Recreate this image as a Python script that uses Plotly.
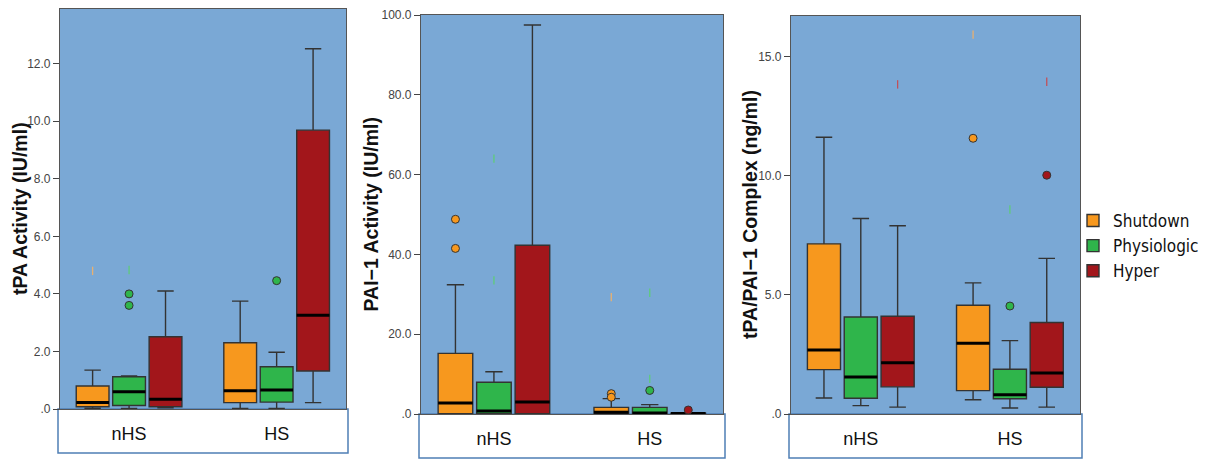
import plotly.graph_objects as go

groups = ["nHS", "HS"]
series = ["Shutdown", "Physiologic", "Hyper"]
colors = ["#F7981E", "#2FB54B", "#A2161B"]
mark_colors = ["#E8B070", "#5FCB7A", "#C0505A"]

# ---- Panel 1: tPA Activity (rows: series, cols: groups) ----
tpa_lower = [[0.02, 0.02], [0.02, 0.02], [0.04, 0.22]]
tpa_q1 = [[0.08, 0.22], [0.12, 0.24], [0.08, 1.32]]
tpa_median = [[0.23, 0.63], [0.60, 0.66], [0.34, 3.26]]
tpa_q3 = [[0.80, 2.30], [1.12, 1.47], [2.51, 9.69]]
tpa_upper = [[1.35, 3.75], [1.15, 1.97], [4.10, 12.52]]
tpa_outliers = [[[], []], [[4.0, 3.6], [4.46]], [[], []]]
tpa_marks = [[[4.8], []], [[4.83], []], [[], []]]

# ---- Panel 2: PAI-1 Activity ----
pai_lower = [[0.0, 0.0], [0.0, 0.0], [0.0, 0.0]]
pai_q1 = [[0.10, 0.05], [0.05, 0.05], [0.05, 0.02]]
pai_median = [[2.76, 0.42], [0.75, 0.25], [3.0, 0.10]]
pai_q3 = [[15.2, 1.67], [7.94, 1.67], [42.3, 0.20]]
pai_upper = [[32.4, 3.85], [10.6, 2.34], [97.5, 0.30]]
pai_outliers = [[[48.8, 41.5], [5.1, 4.2]], [[], [5.9]], [[], [1.0]]]
pai_marks = [[[], [29.3]], [[64.0, 33.5], [8.8, 30.4]], [[], []]]

# ---- Panel 3: tPA/PAI-1 Complex ----
cpx_lower = [[0.67, 0.60], [0.35, 0.25], [0.29, 0.29]]
cpx_q1 = [[1.86, 0.98], [0.66, 0.64], [1.14, 1.12]]
cpx_median = [[2.69, 2.97], [1.55, 0.81], [2.15, 1.72]]
cpx_q3 = [[7.14, 4.56], [4.07, 1.88], [4.10, 3.84]]
cpx_upper = [[11.61, 5.50], [8.20, 3.08], [7.90, 6.53]]
cpx_outliers = [[[], [11.57]], [[], [4.53]], [[], [10.02]]]
cpx_marks = [[[], [15.92]], [[], [8.58]], [[13.83], [13.94]]]

panels = [
    dict(lower=tpa_lower, q1=tpa_q1, med=tpa_median, q3=tpa_q3, up=tpa_upper,
         out=tpa_outliers, marks=tpa_marks, title="tPA Activity (IU/ml)",
         ymax=13.9, tickvals=[0, 2, 4, 6, 8, 10, 12],
         ticktext=[".0", "2.0", "4.0", "6.0", "8.0", "10.0", "12.0"]),
    dict(lower=pai_lower, q1=pai_q1, med=pai_median, q3=pai_q3, up=pai_upper,
         out=pai_outliers, marks=pai_marks, title="PAI\u22121 Activity (IU/ml)",
         ymax=100.0, tickvals=[0, 20, 40, 60, 80, 100],
         ticktext=[".0", "20.0", "40.0", "60.0", "80.0", "100.0"]),
    dict(lower=cpx_lower, q1=cpx_q1, med=cpx_median, q3=cpx_q3, up=cpx_upper,
         out=cpx_outliers, marks=cpx_marks, title="tPA/PAI\u22121 Complex (ng/ml)",
         ymax=16.7, tickvals=[0, 5, 10, 15],
         ticktext=[".0", "5.0", "10.0", "15.0"]),
]

W, H = 1207, 459
xdoms = [(60 / W, 346 / W), (421 / W, 723 / W), (791 / W, 1080 / W)]
ydoms = [((H - 409) / H, (H - 9) / H), ((H - 414) / H, (H - 15) / H), ((H - 414) / H, (H - 16) / H)]
title_x = [20 / W, 370 / W, 750 / W]

offsets = [-0.247, 0.0, 0.247]
box_w = 0.222

fig = go.Figure()
shapes = []
annotations = []

for p, pan in enumerate(panels):
    xa = "x" if p == 0 else f"x{p+1}"
    ya = "y" if p == 0 else f"y{p+1}"
    for s, name in enumerate(series):
        xs = [g + offsets[s] for g in range(len(groups))]
        fig.add_trace(go.Box(
            x=xs, q1=pan["q1"][s], median=pan["med"][s], q3=pan["q3"][s],
            lowerfence=pan["lower"][s], upperfence=pan["up"][s],
            width=box_w, whiskerwidth=0.5, name=name,
            fillcolor=colors[s], line=dict(color="#333333", width=1.4),
            xaxis=xa, yaxis=ya, showlegend=(p == 2), legendgroup=name,
            hoverinfo="skip",
        ))
        # thick median lines
        mx, my = [], []
        for g in range(len(groups)):
            mx += [xs[g] - box_w / 2, xs[g] + box_w / 2, None]
            my += [pan["med"][s][g], pan["med"][s][g], None]
        fig.add_trace(go.Scatter(x=mx, y=my, mode="lines",
                                 line=dict(color="black", width=3),
                                 xaxis=xa, yaxis=ya, showlegend=False, hoverinfo="skip"))
        # outliers
        ox, oy = [], []
        for g in range(len(groups)):
            for v in pan["out"][s][g]:
                ox.append(xs[g]); oy.append(v)
        if ox:
            fig.add_trace(go.Scatter(x=ox, y=oy, mode="markers",
                                     marker=dict(symbol="circle", size=8, color=colors[s],
                                                 line=dict(color="#333333", width=1)),
                                     xaxis=xa, yaxis=ya, showlegend=False, hoverinfo="skip"))
        # extreme case marks
        kx, ky = [], []
        for g in range(len(groups)):
            for v in pan["marks"][s][g]:
                kx.append(xs[g]); ky.append(v)
        if kx:
            fig.add_trace(go.Scatter(x=kx, y=ky, mode="markers",
                                     marker=dict(symbol="line-ns", size=6,
                                                 line=dict(color=mark_colors[s], width=1.3)),
                                     xaxis=xa, yaxis=ya, showlegend=False, hoverinfo="skip"))

    xkey = "xaxis" if p == 0 else f"xaxis{p+1}"
    ykey = "yaxis" if p == 0 else f"yaxis{p+1}"
    fig.update_layout(**{
        xkey: dict(domain=list(xdoms[p]), anchor=ya, range=[-0.468, 1.47],
                   tickvals=[0, 1], ticktext=groups, ticks="", showgrid=False,
                   zeroline=False, showline=True, mirror=True, linecolor="#555555",
                   linewidth=1.2, ticklabelstandoff=8, automargin=False,
                   tickfont=dict(family="Liberation Sans, Arial, sans-serif", size=18, color="#111111")),
        ykey: dict(domain=list(ydoms[p]), anchor=xa, range=[0, pan["ymax"]],
                   tickvals=pan["tickvals"], ticktext=pan["ticktext"], ticks="outside",
                   ticklen=6, tickcolor="#444444", showgrid=False, zeroline=False,
                   showline=True, mirror=True, linecolor="#555555", linewidth=1.2,
                   automargin=False,
                   tickfont=dict(family="Liberation Sans, Arial, sans-serif",
                                 size=12, color="#444444")),
    })
    x0, x1 = xdoms[p]
    y0 = ydoms[p][0]
    shapes.append(dict(type="rect", xref="paper", yref="paper",
                       x0=x0 - 2 / W, x1=x1 + 2 / W, y0=y0 - 44 / H, y1=y0,
                       line=dict(color="#4F7FB5", width=1.5), fillcolor="white", layer="below"))
    annotations.append(dict(text=pan["title"], xref="paper", yref="paper",
                            x=title_x[p], y=(ydoms[p][0] + ydoms[p][1]) / 2,
                            xanchor="center", yanchor="middle",
                            textangle=-90, showarrow=False,
                            font=dict(family="Liberation Sans, Arial, sans-serif", size=19.5,
                                      color="#111111", weight="bold")))

fig.update_layout(
    width=W, height=H, autosize=False,
    margin=dict(l=0, r=0, t=0, b=0, autoexpand=False),
    paper_bgcolor="white", plot_bgcolor="#7AA8D5",
    boxmode="overlay",
    shapes=shapes, annotations=annotations,
    legend=dict(x=1073 / W, y=(H - 203) / H, xanchor="left", yanchor="top",
                bgcolor="rgba(0,0,0,0)", tracegroupgap=0, itemwidth=30,
                font=dict(family="DejaVu Sans Condensed, Liberation Sans, sans-serif",
                          size=17, color="#111111")),
)

fig.write_html("out.html", config={"displayModeBar": False},
               post_script="document.body.style.margin='0px';")
